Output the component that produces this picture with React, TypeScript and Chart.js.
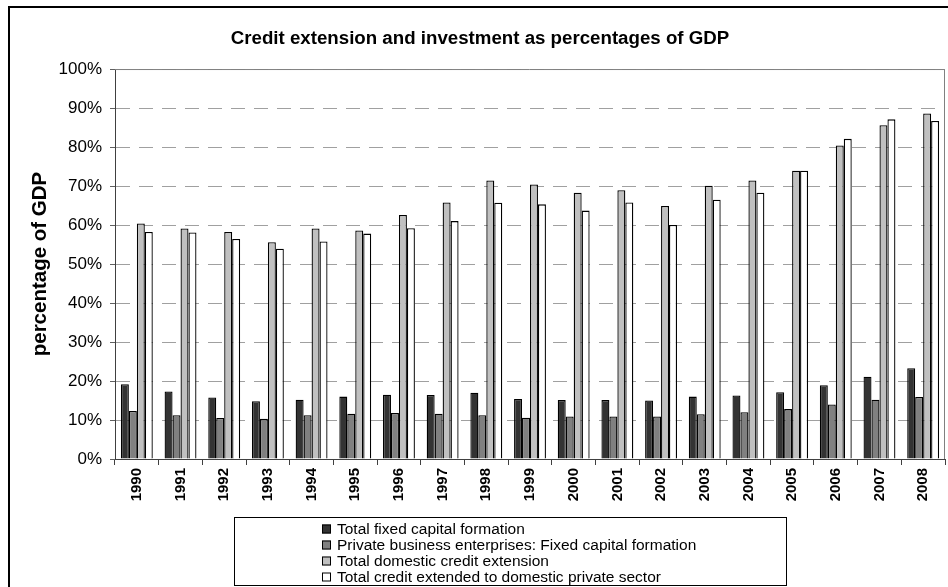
import React, { useEffect, useRef } from "react";
import { Chart, registerables } from "chart.js";

Chart.register(...registerables);

const years = ["1990", "1991", "1992", "1993", "1994", "1995", "1996", "1997", "1998", "1999", "2000", "2001", "2002", "2003", "2004", "2005", "2006", "2007", "2008"];
const totalFixedCapital = [19.2, 17.3, 15.8, 14.8, 15.2, 16.0, 16.5, 16.4, 17.0, 15.4, 15.1, 15.1, 15.0, 16.0, 16.3, 17.1, 18.9, 21.1, 23.3];
const privateBusinessFixed = [12.3, 11.2, 10.5, 10.3, 11.2, 11.6, 11.8, 11.6, 11.2, 10.6, 10.9, 10.9, 10.9, 11.5, 12.0, 12.8, 14.0, 15.2, 15.9];
const totalDomesticCredit = [60.4, 59.1, 58.2, 55.6, 59.1, 58.6, 62.6, 65.8, 71.4, 70.4, 68.3, 68.9, 64.9, 70.1, 71.4, 73.9, 80.4, 85.6, 88.6];
const creditPrivateSector = [58.2, 58.1, 56.4, 53.9, 55.8, 57.8, 59.2, 61.0, 65.7, 65.3, 63.7, 65.8, 60.0, 66.5, 68.3, 73.9, 82.1, 87.1, 86.7];
const seriesLabels = [
  "Total fixed capital formation",
  "Private business enterprises: Fixed capital formation",
  "Total domestic credit extension",
  "Total credit extended to domestic private sector",
];
const seriesColors = ["#333333", "#808080", "#c0c0c0", "#ffffff"];
const titleText = "Credit extension and investment as percentages of GDP";
const yAxisTitle = "percentage of GDP";

const FONT = "'Liberation Sans', Arial, sans-serif";

const decorPlugin = {
  id: "decor",
  beforeDraw(chart: any) {
    const ctx = chart.ctx;
    ctx.save();
    ctx.fillStyle = "#ffffff";
    ctx.fillRect(0, 0, chart.width, chart.height);
    ctx.restore();
  },
  beforeDatasetsDraw(chart: any) {
    const { ctx, chartArea } = chart;
    ctx.save();
    ctx.strokeStyle = "#808080";
    ctx.lineWidth = 1;
    ctx.beginPath();
    ctx.moveTo(chartArea.left, chartArea.top + 0.5);
    ctx.lineTo(chartArea.right - 0.5, chartArea.top + 0.5);
    ctx.lineTo(chartArea.right - 0.5, chartArea.bottom);
    ctx.stroke();
    ctx.restore();
  },
  afterDraw(chart: any) {
    const ctx = chart.ctx;
    ctx.save();
    // outer frame
    ctx.strokeStyle = "#000000";
    ctx.lineWidth = 2;
    ctx.strokeRect(9, 7, 1000, 1000);
    // legend box
    ctx.lineWidth = 1;
    ctx.strokeStyle = "#000000";
    ctx.strokeRect(234.5, 517.5, 552, 68);
    ctx.font = `15.5px ${FONT}`;
    ctx.textBaseline = "middle";
    ctx.textAlign = "left";
    const ds = chart.data.datasets;
    for (let i = 0; i < ds.length; i++) {
      const cy = 529 + i * 16;
      ctx.fillStyle = ds[i].backgroundColor;
      ctx.fillRect(322, cy - 4.5, 9, 9);
      ctx.strokeStyle = "#000000";
      ctx.strokeRect(322.5, cy - 4, 8, 8);
      ctx.fillStyle = "#000000";
      ctx.fillText(ds[i].label, 337, cy + 0.5);
    }
    ctx.restore();
  },
};

export default function App() {
  const canvasRef = useRef<HTMLCanvasElement | null>(null);

  useEffect(() => {
    if (!canvasRef.current) return;
    Chart.defaults.font.family = FONT;
    const values = [totalFixedCapital, privateBusinessFixed, totalDomesticCredit, creditPrivateSector];
    const chart = new Chart(canvasRef.current, {
      type: "bar",
      data: {
        labels: years,
        datasets: values.map((v, i) => ({
          label: seriesLabels[i],
          data: v,
          backgroundColor: seriesColors[i],
          borderColor: "#000000",
          borderWidth: 1.3,
          categoryPercentage: 0.73,
          barPercentage: 1,
        })),
      },
      options: {
        responsive: false,
        animation: false,
        layout: { padding: { left: 15, right: 3, top: 0, bottom: 0 } },
        plugins: {
          legend: { display: false },
          tooltip: { enabled: false },
          title: {
            display: true,
            text: titleText,
            color: "#000000",
            font: { family: FONT, size: 18.7, weight: "bold" },
            padding: { top: 28, bottom: 18.6 },
          },
        },
        scales: {
          x: {
            offset: true,
            grid: {
              display: true,
              offset: true,
              drawOnChartArea: false,
              drawTicks: true,
              tickLength: 6,
              color: "#404040",
            },
            border: { display: true, color: "#404040", width: 1 },
            ticks: {
              minRotation: 90,
              maxRotation: 90,
              padding: 3,
              color: "#000000",
              font: { family: FONT, size: 15, weight: "bold" },
            },
            afterFit: (scale: any) => {
              scale.height = 128;
            },
          },
          y: {
            min: 0,
            max: 100,
            grid: {
              color: "#a0a0a0",
              lineWidth: 1,
              drawTicks: true,
              tickLength: 5,
              tickColor: "#606060",
            },
            border: { display: true, color: "#404040", width: 1, dash: [14, 9] },
            ticks: {
              stepSize: 10,
              padding: 8,
              color: "#000000",
              font: { family: FONT, size: 17 },
              callback: (v: any) => `${v}%`,
            },
            title: {
              display: true,
              text: yAxisTitle,
              color: "#000000",
              font: { family: FONT, size: 20.5, weight: "bold" },
              padding: { top: 13, bottom: 0 },
            },
            afterFit: (scale: any) => {
              scale.width = 100;
            },
          },
        },
      },
      plugins: [decorPlugin],
    });
    return () => chart.destroy();
  }, []);

  return (
    <div style={{ position: "absolute", left: 0, top: 0, width: 948, height: 587 }}>
      <canvas ref={canvasRef} width={948} height={587} />
    </div>
  );
}
